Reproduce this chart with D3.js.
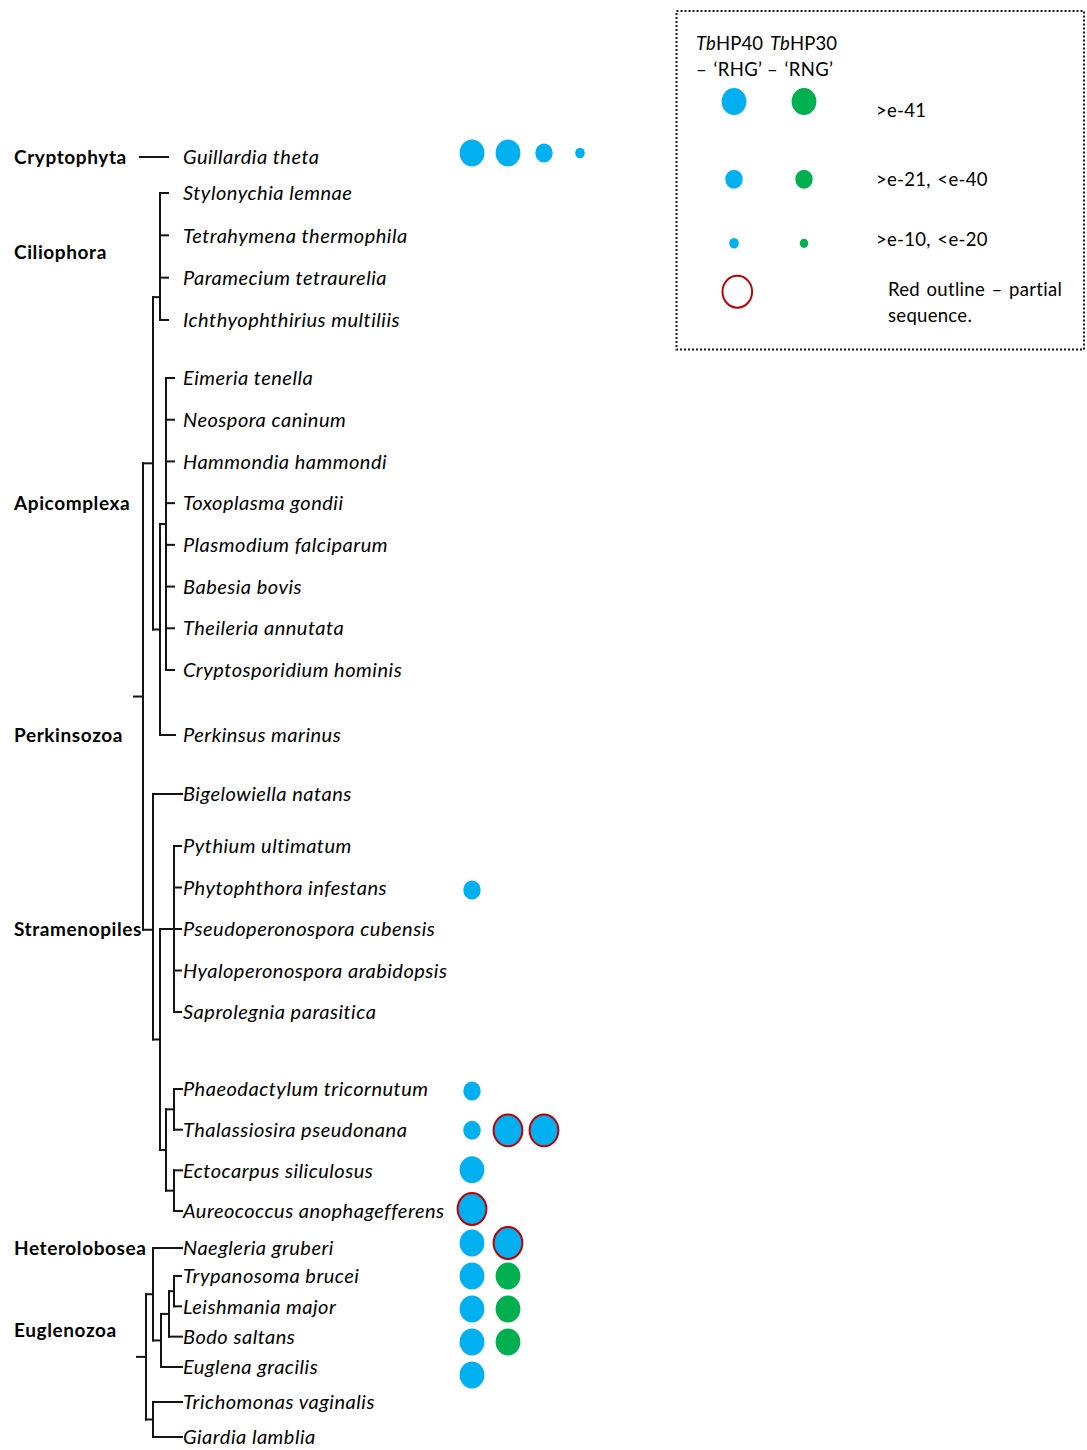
<!DOCTYPE html>
<html><head><meta charset="utf-8">
<script src="https://cdn.jsdelivr.net/npm/d3@7"></script>
<style>body{margin:0;background:#fff}svg{display:block}</style>
</head><body><svg id="c" width="1087" height="1450"></svg>
<script>
// ---------------- DATA ----------------
const taxa = ["Guillardia theta","Stylonychia lemnae","Tetrahymena thermophila","Paramecium tetraurelia",
  "Ichthyophthirius multiliis","Eimeria tenella","Neospora caninum","Hammondia hammondi","Toxoplasma gondii",
  "Plasmodium falciparum","Babesia bovis","Theileria annutata","Cryptosporidium hominis","Perkinsus marinus",
  "Bigelowiella natans","Pythium ultimatum","Phytophthora infestans","Pseudoperonospora cubensis",
  "Hyaloperonospora arabidopsis","Saprolegnia parasitica","Phaeodactylum tricornutum","Thalassiosira pseudonana",
  "Ectocarpus siliculosus","Aureococcus anophagefferens","Naegleria gruberi","Trypanosoma brucei",
  "Leishmania major","Bodo saltans","Euglena gracilis","Trichomonas vaginalis","Giardia lamblia"];

const groups = ["Cryptophyta","Ciliophora","Apicomplexa","Perkinsozoa","Stramenopiles","Heterolobosea","Euglenozoa"];
const groupRow = [0, 2.4, 8, 13, 17, 24, 26.8];   // leaf row each group label sits on

// trees (Newick, branch lengths)
const treeGuillardia = "Guillardia theta:28";
const treeUpper = "(((Stylonychia lemnae:8,Tetrahymena thermophila:8,Paramecium tetraurelia:8,Ichthyophthirius multiliis:8)Ciliophora:7,((Eimeria tenella:8,Neospora caninum:8,Hammondia hammondi:8,Toxoplasma gondii:8,Plasmodium falciparum:8,Babesia bovis:8,Theileria annutata:8,Cryptosporidium hominis:8)Apicomplexa:6,Perkinsus marinus:15):7):10,(Bigelowiella natans:29,((Pythium ultimatum:7,Phytophthora infestans:7,Pseudoperonospora cubensis:7,Hyaloperonospora arabidopsis:7,Saprolegnia parasitica:7):14,((Phaeodactylum tricornutum:8,Thalassiosira pseudonana:8):8,(Ectocarpus siliculosus:8,Aureococcus anophagefferens:8):8):6):7)Stramenopiles:10):9";
const treeLower = "((Naegleria gruberi:29,(((Trypanosoma brucei:7,Leishmania major:7):5,Bodo saltans:13):8,Euglena gracilis:21):8):7,(Trichomonas vaginalis:29,Giardia lamblia:29):7):9";

// homology hits: taxon, protein, e-value class (0: >e-41, 1: >e-21,<e-40, 2: >e-10,<e-20), partial
const hits = [
  ["Guillardia theta","HP40",0,false],["Guillardia theta","HP40",0,false],
  ["Guillardia theta","HP40",1,false],["Guillardia theta","HP40",2,false],
  ["Phytophthora infestans","HP40",1,false],
  ["Phaeodactylum tricornutum","HP40",1,false],
  ["Thalassiosira pseudonana","HP40",1,false],["Thalassiosira pseudonana","HP40",0,true],["Thalassiosira pseudonana","HP40",0,true],
  ["Ectocarpus siliculosus","HP40",0,false],
  ["Aureococcus anophagefferens","HP40",0,true],
  ["Naegleria gruberi","HP40",0,false],["Naegleria gruberi","HP40",0,true],
  ["Trypanosoma brucei","HP40",0,false],["Trypanosoma brucei","HP30",0,false],
  ["Leishmania major","HP40",0,false],["Leishmania major","HP30",0,false],
  ["Bodo saltans","HP40",0,false],["Bodo saltans","HP30",0,false],
  ["Euglena gracilis","HP40",0,false]
];

const proteins = ["HP40","HP30"];
const motifs = ["RHG","RNG"];
const evalueLabels = [">e-41", ">e-21, <e-40", ">e-10, <e-20"];
const partialLabel = ["Red outline \u2013 partial", "sequence."];

// ---------------- LAYOUT / STYLE ----------------
const svg = d3.select("#c");
const FONT = "Lato, 'Open Sans', sans-serif";
const lineColor = "#141414";
const colorScale = d3.scaleOrdinal().domain(proteins).range(["#00B0F0","#00B050"]);
const rxScale = d3.scaleOrdinal().domain([0,1,2]).range([12.4, 8.7, 4.8]);
const ryScale = d3.scaleOrdinal().domain([0,1,2]).range([13.4, 9.5, 5.2]);
const partialColor = "#C00000";

// leaf rows -> y (piecewise: sections of the figure)
const leafY = d3.scaleLinear()
  .domain([0,1,4,5,12,13,14,15,19,20,23,24,25,28,30])
  .range([157,193,320,378,670,735,794,846,1012,1089,1211,1248,1276,1367,1437]);
const dotY = d3.scaleLinear()
  .domain([0,1,16,20,23,24,28])
  .range([153,194,890,1091,1209,1243,1375]);
const xTree = d3.scaleLinear().domain([0,50]).range([134,184]);
const xDot = d3.scaleLinear().domain([0,1]).range([472,508]);
const labelX = 183;
const joinAt = {Ciliophora: 0.82, Stramenopiles: 0.553};
const treeOrigin = [["g",treeGuillardia,6],["u",treeUpper,0],["l",treeLower,3]];

// ---------- newick parser ----------
function parseNewick(s){
  let i = 0;
  function node(){
    const n = {children:[]};
    if (s[i] === "("){
      i++;
      n.children.push(node());
      while (s[i] === ","){ i++; n.children.push(node()); }
      i++; // ')'
    }
    let name = "";
    while (i < s.length && !",():".includes(s[i])) name += s[i++];
    n.name = name.trim();
    if (s[i] === ":"){ i++; let l=""; while (i < s.length && !",()".includes(s[i])) l += s[i++]; n.length = +l; }
    else n.length = 0;
    return n;
  }
  return node();
}

const gTree = svg.append("g").attr("fill","none").attr("stroke",lineColor)
  .attr("stroke-width",2).attr("stroke-linecap","square");

function layout(n, x0){
  n.x0 = x0; n.x = x0 + n.length;
  if (n.children.length){
    n.children.forEach(c => layout(c, n.x));
    const a = n.children[0].y, b = n.children[n.children.length-1].y;
    const f = joinAt[n.name] !== undefined ? joinAt[n.name] : 0.5;
    n.y = a + f*(b-a);
  } else {
    n.y = leafY(taxa.indexOf(n.name));
  }
}
function draw(n){
  gTree.append("line").attr("x1",xTree(n.x0)).attr("x2",xTree(n.x)).attr("y1",n.y).attr("y2",n.y);
  if (n.children.length){
    gTree.append("line").attr("x1",xTree(n.x)).attr("x2",xTree(n.x))
      .attr("y1",n.children[0].y).attr("y2",n.children[n.children.length-1].y);
    n.children.forEach(draw);
  }
}
treeOrigin.forEach(([k,nw,o]) => { const t = parseNewick(nw); layout(t,o); draw(t); });

// leaf labels
svg.append("g").selectAll("text").data(taxa).join("text")
  .attr("x", labelX).attr("y", (d,i) => leafY(i)).attr("dy","0.36em")
  .attr("font-family",FONT).attr("font-style","italic").attr("font-size",20)
  .attr("letter-spacing",0.5).attr("fill","#000")
  .text(d => d);

// group labels
svg.append("g").selectAll("text").data(groups).join("text")
  .attr("x", 14).attr("y", (d,i) => leafY(groupRow[i])).attr("dy","0.36em")
  .attr("font-family",FONT).attr("font-weight","bold").attr("font-size",19)
  .attr("letter-spacing",0.6).attr("fill","#000")
  .text(d => d);

// hits
const colCount = {};
const hitData = hits.map(([t,p,c,partial]) => {
  const col = colCount[t] = (colCount[t] === undefined ? 0 : colCount[t] + 1);
  return {t,p,c,partial,col,row:taxa.indexOf(t)};
});
svg.append("g").selectAll("ellipse").data(hitData).join("ellipse")
  .attr("cx", d => xDot(d.col)).attr("cy", d => dotY(d.row))
  .attr("rx", d => rxScale(d.c) + (d.partial ? 2 : 0))
  .attr("ry", d => ryScale(d.c) + (d.partial ? 2.5 : 0))
  .attr("fill", d => colorScale(d.p))
  .attr("stroke", d => d.partial ? partialColor : "none").attr("stroke-width", 2);

// ---------------- LEGEND ----------------
const lg = svg.append("g");
const legText = sel => sel.attr("font-family",FONT).attr("font-size",18.5)
  .attr("letter-spacing",0.3).attr("word-spacing",1.5).attr("fill","#000");
lg.append("rect").attr("x",676.5).attr("y",11).attr("width",407.5).attr("height",338.5)
  .attr("fill","none").attr("stroke","#1a1a1a").attr("stroke-width",2).attr("stroke-dasharray","2,2");
const legColX = d3.scaleOrdinal().domain(proteins).range([734,804]);
const headerX = d3.scaleOrdinal().domain(proteins).range([696,770]);
const motifX = d3.scaleOrdinal().domain(proteins).range([696,767]);
const legRowY = d3.scaleOrdinal().domain([0,1,2,3]).range([101.5,179.3,243.3,291.7]);
const legLabelY = d3.scaleOrdinal().domain([0,1,2]).range([110,179,239]);

proteins.forEach((p,i) => {
  const t = lg.append("text").attr("x", headerX(p)).attr("y", 43).attr("dy","0.36em").call(legText)
    .attr("letter-spacing",0.1);
  t.append("tspan").attr("font-style","italic").text("Tb");
  t.append("tspan").text(p);
  lg.append("text").attr("x", motifX(p)).attr("y", 69).attr("dy","0.36em").call(legText)
    .text("\u2013 \u2018" + motifs[i] + "\u2019");
  evalueLabels.forEach((lab,c) => {
    lg.append("ellipse").attr("cx", legColX(p)).attr("cy", legRowY(c))
      .attr("rx", rxScale(c) - (i===1 && c===2 ? 0.6 : 0)).attr("ry", ryScale(c) - (i===1 && c===2 ? 0.6 : 0))
      .attr("fill", colorScale(p));
  });
});
evalueLabels.forEach((lab,c) => {
  lg.append("text").attr("x",876).attr("y",legLabelY(c)).attr("dy","0.36em").call(legText).text(lab);
});
lg.append("ellipse").attr("cx",737.3).attr("cy",legRowY(3)).attr("rx",14.8).attr("ry",16)
  .attr("fill","none").attr("stroke",partialColor).attr("stroke-width",2);
partialLabel.forEach((l,k) => {
  lg.append("text").attr("x",888).attr("y",289 + k*26).attr("dy","0.36em").call(legText).text(l);
});
</script>
</body></html>
